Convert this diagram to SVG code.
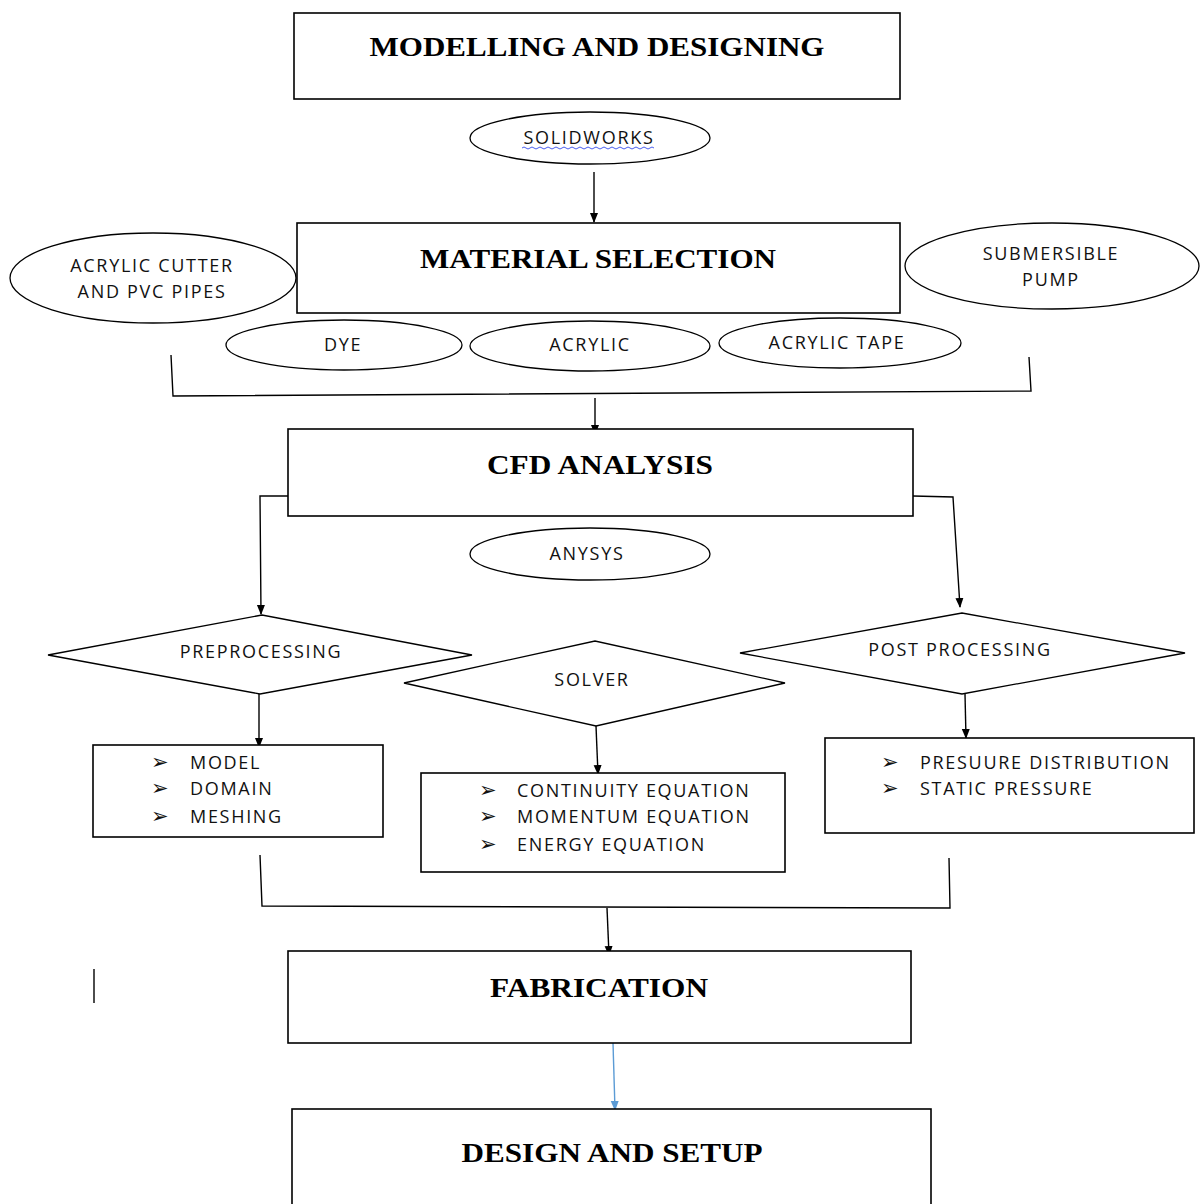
<svg xmlns="http://www.w3.org/2000/svg" width="1201" height="1204" viewBox="0 0 1201 1204">
<defs>
<marker id="ah" markerWidth="10" markerHeight="10" refX="9" refY="5" orient="auto" markerUnits="userSpaceOnUse" viewBox="0 0 10 10">
<path d="M0,1 L10,5 L0,9 Z" fill="#000"/>
</marker>
<marker id="ahb" markerWidth="10" markerHeight="10" refX="9" refY="5" orient="auto" markerUnits="userSpaceOnUse" viewBox="0 0 10 10">
<path d="M0,1 L10,5 L0,9 Z" fill="#5b9bd5"/>
</marker>
<style>
.box{fill:#fff;stroke:#000;stroke-width:1.6}
.shape{fill:#fff;stroke:#000;stroke-width:1.3}
.title{font-family:"Liberation Serif","Times New Roman",serif;font-weight:bold;font-size:27px;fill:#000;text-anchor:middle}
.lbl{font-family:"Open Sans","Liberation Sans",Arial,sans-serif;font-size:18px;letter-spacing:1.7px;fill:#111;text-anchor:middle}
.item{font-family:"Open Sans","Liberation Sans",Arial,sans-serif;font-size:18px;letter-spacing:1.7px;fill:#111}
.bul{font-family:"DejaVu Sans",sans-serif;font-size:21px;fill:#111}
.conn{fill:none;stroke:#000;stroke-width:1.4}
</style>
</defs>
<rect width="1201" height="1204" fill="#fff"/>

<g id="connectors">
<path class="conn" d="M594,172 L594,222" marker-end="url(#ah)"/>
<path class="conn" d="M171,355 L173,396 L1031,391 L1029,357"/>
<path class="conn" d="M595,398 L595,434" marker-end="url(#ah)"/>
<path class="conn" d="M288,496 L260,496 L261,614" marker-end="url(#ah)"/>
<path class="conn" d="M913,496 L953,497 L960,607" marker-end="url(#ah)"/>
<path class="conn" d="M259,694 L259,747" marker-end="url(#ah)"/>
<path class="conn" d="M596,726 L598,774" marker-end="url(#ah)"/>
<path class="conn" d="M965,694 L966,738" marker-end="url(#ah)"/>
<path class="conn" d="M260,855 L262,906 L950,908 L949,858"/>
<path class="conn" d="M607,908 L609,955" marker-end="url(#ah)"/>
<path d="M613,1043 L615,1110" fill="none" stroke="#5b9bd5" stroke-width="1.4" marker-end="url(#ahb)"/>
<path class="conn" d="M94,969 L94,1003"/>
</g>

<g id="modelling">
<rect class="box" x="294" y="13" width="606" height="86"/>
<text class="title" x="597" y="56" textLength="455" lengthAdjust="spacingAndGlyphs">MODELLING AND DESIGNING</text>
</g>

<g id="solidworks">
<ellipse class="shape" cx="590" cy="138" rx="120" ry="26"/>
<text class="lbl" x="589" y="144" font-size="17">SOLIDWORKS</text>
<path d="M522,148 q2,-2 4,0 t4,0 t4,0 t4,0 t4,0 t4,0 t4,0 t4,0 t4,0 t4,0 t4,0 t4,0 t4,0 t4,0 t4,0 t4,0 t4,0 t4,0 t4,0 t4,0 t4,0 t4,0 t4,0 t4,0 t4,0 t4,0 t4,0 t4,0 t4,0 t4,0 t4,0 t4,0 t4,0" fill="none" stroke="#4a5ef0" stroke-width="1"/>
</g>

<g id="material">
<rect class="box" x="297" y="223" width="603" height="90"/>
<text class="title" x="598" y="268" textLength="356" lengthAdjust="spacingAndGlyphs">MATERIAL SELECTION</text>
</g>

<g id="acrylic-cutter">
<ellipse class="shape" cx="153" cy="278" rx="143" ry="45"/>
<text class="lbl" x="152" y="272">ACRYLIC CUTTER</text>
<text class="lbl" x="152" y="298">AND PVC PIPES</text>
</g>

<g id="pump">
<ellipse class="shape" cx="1052" cy="266" rx="147" ry="43"/>
<text class="lbl" x="1051" y="260">SUBMERSIBLE</text>
<text class="lbl" x="1051" y="286">PUMP</text>
</g>

<g id="dye">
<ellipse class="shape" cx="344" cy="345" rx="118" ry="25"/>
<text class="lbl" x="343" y="351">DYE</text>
</g>

<g id="acrylic">
<ellipse class="shape" cx="590" cy="346" rx="120" ry="25"/>
<text class="lbl" x="590" y="351">ACRYLIC</text>
</g>

<g id="acrylic-tape">
<ellipse class="shape" cx="840" cy="343" rx="121" ry="25"/>
<text class="lbl" x="837" y="349">ACRYLIC TAPE</text>
</g>

<g id="cfd">
<rect class="box" x="288" y="429" width="625" height="87"/>
<text class="title" x="600" y="474" textLength="226" lengthAdjust="spacingAndGlyphs">CFD ANALYSIS</text>
</g>

<g id="anysys">
<ellipse class="shape" cx="590" cy="554" rx="120" ry="26"/>
<text class="lbl" x="587" y="560">ANYSYS</text>
</g>

<g id="preprocessing">
<polygon class="shape" points="48,655 262,615 472,655 260,694"/>
<text class="lbl" x="261" y="658">PREPROCESSING</text>
</g>

<g id="solver">
<polygon class="shape" points="404,683 595,641 785,683 596,726"/>
<text class="lbl" x="592" y="686">SOLVER</text>
</g>

<g id="postprocessing">
<polygon class="shape" points="740,653 962,613 1185,653 962,694"/>
<text class="lbl" x="960" y="656">POST PROCESSING</text>
</g>

<g id="pre-items">
<rect class="box" x="93" y="745" width="290" height="92"/>
<text class="bul" x="151" y="769">➢</text><text class="item" x="190" y="769">MODEL</text>
<text class="bul" x="151" y="795">➢</text><text class="item" x="190" y="795">DOMAIN</text>
<text class="bul" x="151" y="823">➢</text><text class="item" x="190" y="823">MESHING</text>
</g>

<g id="solver-items">
<rect class="box" x="421" y="773" width="364" height="99"/>
<text class="bul" x="479" y="797">➢</text><text class="item" x="517" y="797">CONTINUITY EQUATION</text>
<text class="bul" x="479" y="823">➢</text><text class="item" x="517" y="823">MOMENTUM EQUATION</text>
<text class="bul" x="479" y="851">➢</text><text class="item" x="517" y="851">ENERGY EQUATION</text>
</g>

<g id="post-items">
<rect class="box" x="825" y="738" width="369" height="95"/>
<text class="bul" x="881" y="769">➢</text><text class="item" x="920" y="769">PRESUURE DISTRIBUTION</text>
<text class="bul" x="881" y="795">➢</text><text class="item" x="920" y="795">STATIC PRESSURE</text>
</g>

<g id="fabrication">
<rect class="box" x="288" y="951" width="623" height="92"/>
<text class="title" x="599" y="997" font-size="30" textLength="218" lengthAdjust="spacingAndGlyphs">FABRICATION</text>
</g>

<g id="design-setup">
<rect class="box" x="292" y="1109" width="639" height="110"/>
<text class="title" x="612" y="1162" font-size="32" textLength="301" lengthAdjust="spacingAndGlyphs">DESIGN AND SETUP</text>
</g>
</svg>
